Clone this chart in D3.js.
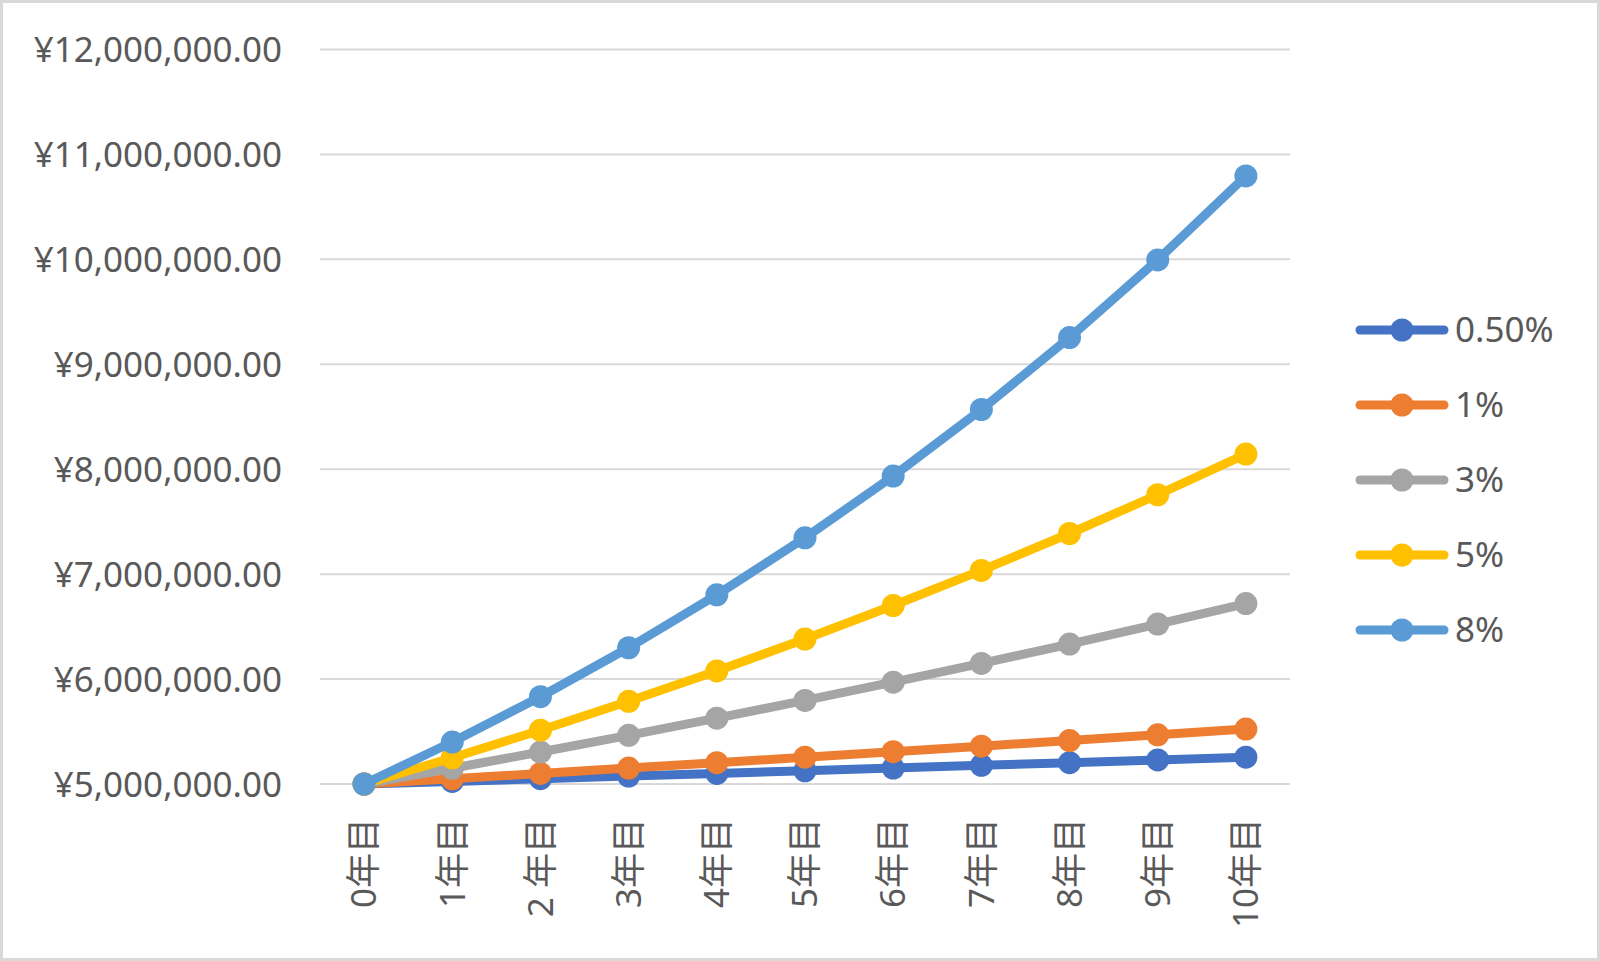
<!DOCTYPE html>
<html><head><meta charset="utf-8">
<script src="https://cdn.jsdelivr.net/npm/d3@7"></script>
<style>
html,body{margin:0;padding:0;background:#fff;}
svg{display:block;}
</style></head>
<body>
<svg id="chart" width="1600" height="961"></svg>
<script>
const categories = ["0年目","1年目","2 年目","3年目","4年目","5年目","6年目","7年目","8年目","9年目","10年目"];
const seriesNames = ["0.50%","1%","3%","5%","8%"];
const seriesColors = ["#4472C4","#ED7D31","#A5A5A5","#FFC000","#5B9BD5"];
const rate050 = [5000000,5025000,5050125,5075376,5100753,5126257,5151888,5177648,5203536,5229554,5255701];
const rate1 = [5000000,5050000,5100500,5151505,5203020,5255050,5307601,5360677,5414284,5468427,5523111];
const rate3 = [5000000,5150000,5304500,5463635,5627544,5796370,5970261,6149369,6333850,6523866,6719582];
const rate5 = [5000000,5250000,5512500,5788125,6077531,6381408,6700478,7035502,7387277,7756641,8144473];
const rate8 = [5000000,5400000,5832000,6298560,6802445,7346640,7934371,8569120,9254650,9995022,10794625];
const yTicks = [5000000,6000000,7000000,8000000,9000000,10000000,11000000,12000000];

const seriesValues = [rate050, rate1, rate3, rate5, rate8];

const svg = d3.select("#chart");
const W = 1600, H = 961;
const font = "'Noto Sans', 'Noto Sans CJK JP', sans-serif";
const textColor = "#595959";
const fs = 35;

// border
svg.append("rect").attr("x",1.5).attr("y",1.5).attr("width",W-3).attr("height",H-3)
  .attr("fill","#fff").attr("stroke","#d9d9d9").attr("stroke-width",3);

const x = d3.scaleBand().domain(categories).range([320,1290]).padding(0);
const y = d3.scaleLinear().domain([5000000,12000000]).range([784,49.5]);

// gridlines
svg.append("g").selectAll("line").data(yTicks).join("line")
  .attr("x1",320).attr("x2",1290)
  .attr("y1",d=>y(d)).attr("y2",d=>y(d))
  .attr("stroke","#d9d9d9").attr("stroke-width",2);

// y axis labels
const fmt = d => "¥" + d3.format(",.2f")(d);
const yAxis = d3.axisLeft(y).tickValues(yTicks).tickFormat(fmt).tickSize(0).tickPadding(0);
const gy = svg.append("g").attr("transform","translate(282,0)").call(yAxis);
gy.select(".domain").remove();
gy.selectAll("text").attr("font-family",font).attr("font-size",fs).attr("fill",textColor)
  .attr("dy","0.35em");

// x axis labels rotated
const xAxis = d3.axisBottom(x).tickSize(0).tickPadding(0);
const gx = svg.append("g").attr("transform","translate(0,818)").call(xAxis);
gx.select(".domain").remove();
gx.selectAll("text").attr("font-family",font).attr("font-size",fs).attr("fill",textColor)
  .attr("transform","rotate(-90)").attr("text-anchor","end")
  .attr("x",0).attr("y",0).attr("dy","0.35em");

// lines
const line = d3.line().x((d,i)=>x(categories[i])+x.bandwidth()/2).y(d=>y(d));
seriesValues.forEach((vals,si)=>{
  const g = svg.append("g");
  g.append("path").datum(vals).attr("d",line).attr("fill","none")
    .attr("stroke",seriesColors[si]).attr("stroke-width",9)
    .attr("stroke-linejoin","round").attr("stroke-linecap","round");
  g.selectAll("circle").data(vals).join("circle")
    .attr("cx",(d,i)=>x(categories[i])+x.bandwidth()/2)
    .attr("cy",d=>y(d)).attr("r",11.5).attr("fill",seriesColors[si]);
});

// legend
const legY = d3.scalePoint().domain(seriesNames).range([330,630]);
const leg = svg.append("g").selectAll("g").data(seriesNames).join("g")
  .attr("transform",d=>`translate(0,${legY(d)})`);
leg.append("line").attr("x1",1360).attr("x2",1444).attr("y1",0).attr("y2",0)
  .attr("stroke",(d,i)=>seriesColors[i]).attr("stroke-width",9).attr("stroke-linecap","round");
leg.append("circle").attr("cx",1402).attr("cy",0).attr("r",11.5).attr("fill",(d,i)=>seriesColors[i]);
leg.append("text").attr("x",1455).attr("y",0).attr("dy","0.35em").text(d=>d)
  .attr("font-family",font).attr("font-size",fs).attr("fill",textColor);
</script>
</body></html>
